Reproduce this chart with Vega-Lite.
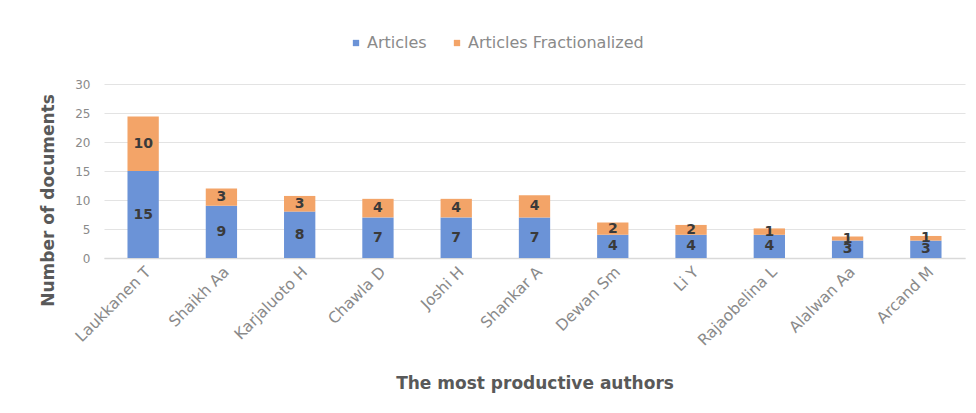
{
  "$schema": "https://vega.github.io/schema/vega-lite/v6.json",
  "width": 861,
  "height": 174,
  "autosize": "none",
  "padding": {"left": 104, "top": 84, "right": 11, "bottom": 155},
  "background": "white",
  "config": {
    "font": "DejaVu Sans",
    "view": {"stroke": null},
    "axisY": {
      "title": "Number of documents",
      "titleFontWeight": "bold",
      "titleFontSize": 17,
      "titleColor": "#595959",
      "titleX": -56,
      "titleY": 116,
      "titleAngle": -90,
      "titleBaseline": "middle",
      "titleAlign": "center",
      "labelOverlap": false,
      "labelColor": "#8a8a8a",
      "labelFontSize": 12,
      "labelPadding": 14,
      "ticks": false,
      "domain": false,
      "gridColor": "#e3e3e3",
      "gridWidth": 1
    }
  },
  "data": {
    "values": [
      {"author": "Laukkanen T", "series": "Articles", "value": 15, "label": "15"},
      {"author": "Laukkanen T", "series": "Articles Fractionalized", "value": 9.4, "label": "10"},
      {"author": "Shaikh Aa", "series": "Articles", "value": 9, "label": "9"},
      {"author": "Shaikh Aa", "series": "Articles Fractionalized", "value": 3, "label": "3"},
      {"author": "Karjaluoto H", "series": "Articles", "value": 8, "label": "8"},
      {"author": "Karjaluoto H", "series": "Articles Fractionalized", "value": 2.7, "label": "3"},
      {"author": "Chawla D", "series": "Articles", "value": 7, "label": "7"},
      {"author": "Chawla D", "series": "Articles Fractionalized", "value": 3.2, "label": "4"},
      {"author": "Joshi H", "series": "Articles", "value": 7, "label": "7"},
      {"author": "Joshi H", "series": "Articles Fractionalized", "value": 3.2, "label": "4"},
      {"author": "Shankar A", "series": "Articles", "value": 7, "label": "7"},
      {"author": "Shankar A", "series": "Articles Fractionalized", "value": 3.8, "label": "4"},
      {"author": "Dewan Sm", "series": "Articles", "value": 4, "label": "4"},
      {"author": "Dewan Sm", "series": "Articles Fractionalized", "value": 2.1, "label": "2"},
      {"author": "Li Y", "series": "Articles", "value": 4, "label": "4"},
      {"author": "Li Y", "series": "Articles Fractionalized", "value": 1.7, "label": "2"},
      {"author": "Rajaobelina L", "series": "Articles", "value": 4, "label": "4"},
      {"author": "Rajaobelina L", "series": "Articles Fractionalized", "value": 1.1, "label": "1"},
      {"author": "Alalwan Aa", "series": "Articles", "value": 3, "label": "3"},
      {"author": "Alalwan Aa", "series": "Articles Fractionalized", "value": 0.7, "label": "1"},
      {"author": "Arcand M", "series": "Articles", "value": 3, "label": "3"},
      {"author": "Arcand M", "series": "Articles Fractionalized", "value": 0.8, "label": "1"}
    ]
  },
  "transform": [
    {"stack": "value", "groupby": ["author"], "sort": [{"field": "series", "order": "ascending"}], "as": ["v0", "v1"]},
    {"calculate": "(datum.v0 + datum.v1) / 2", "as": "mid"}
  ],
  "encoding": {
    "x": {
      "field": "author",
      "type": "nominal",
      "sort": null,
      "scale": {"paddingInner": 0.6, "paddingOuter": 0.3},
      "axis": {
        "title": "The most productive authors",
        "titleFontWeight": "bold",
        "titleFontSize": 17,
        "titleColor": "#595959",
        "titleBaseline": "middle",
        "titleY": 125,
        "labelAngle": -45,
        "labelColor": "#8a8a8a",
        "labelFontSize": 15.5,
        "labelPadding": 6,
        "ticks": false,
        "domainColor": "#d9d9d9",
        "domainWidth": 1.5
      }
    }
  },
  "layer": [
    {
      "mark": {"type": "bar"},
      "encoding": {
        "y": {
          "field": "v0",
          "type": "quantitative",
          "scale": {"domain": [0, 30]},
          "axis": {"title": "Number of documents", "values": [0, 5, 10, 15, 20, 25, 30]}
        },
        "y2": {"field": "v1"},
        "color": {
          "field": "series",
          "type": "nominal",
          "scale": {"domain": ["Articles", "Articles Fractionalized"], "range": ["#6b93d7", "#f3a468"]},
          "legend": {
            "title": null,
            "orient": "none",
            "direction": "horizontal",
            "legendX": 244,
            "legendY": -49,
            "symbolType": "square",
            "symbolSize": 40,
            "labelFontSize": 16,
            "labelLimit": 400,
            "labelColor": "#8a8a8a",
            "columnPadding": 22,
            "labelOffset": 3
          }
        }
      }
    },
    {
      "mark": {"type": "text", "fontWeight": "bold", "fontSize": 14, "color": "#3a3a3a", "baseline": "middle"},
      "encoding": {
        "y": {"field": "mid", "type": "quantitative", "axis": {"title": "Number of documents", "values": [0, 5, 10, 15, 20, 25, 30]}},
        "text": {"field": "label"}
      }
    }
  ]
}
